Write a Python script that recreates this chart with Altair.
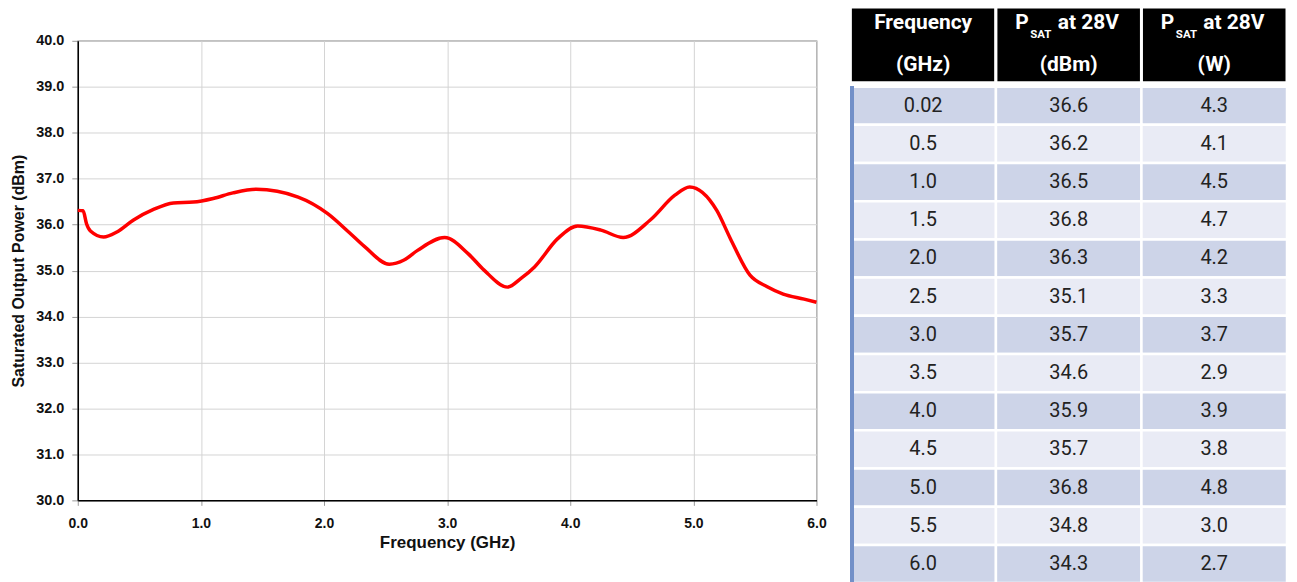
import altair as alt
import pandas as pd

# ---- curve data ----
freq = [0.0, 0.043, 0.071, 0.103, 0.21, 0.318, 0.453, 0.615, 0.777, 0.939, 1.10, 1.26, 1.45,
        1.79, 2.03, 2.2, 2.33, 2.53, 2.65, 2.76, 2.98, 3.17, 3.3, 3.49, 3.6, 3.71, 3.9,
        4.06, 4.25, 4.43, 4.65, 4.85, 4.97, 5.19, 5.3, 5.46, 5.6, 5.73, 5.9, 6.0]
psat = [36.31, 36.30, 36.02, 35.86, 35.73, 35.84, 36.10, 36.33, 36.47, 36.49, 36.57, 36.69, 36.77,
        36.60, 36.24, 35.84, 35.52, 35.14, 35.23, 35.44, 35.72, 35.37, 35.01, 34.64, 34.83, 35.08, 35.70,
        35.97, 35.88, 35.72, 36.10, 36.64, 36.82, 36.31, 35.70, 34.90, 34.65, 34.49, 34.38, 34.31]

# ---- table data ----
tbl_freq = ["0.02", "0.5", "1.0", "1.5", "2.0", "2.5", "3.0", "3.5", "4.0", "4.5", "5.0", "5.5", "6.0"]
tbl_dbm = ["36.6", "36.2", "36.5", "36.8", "36.3", "35.1", "35.7", "34.6", "35.9", "35.7", "36.8", "34.8", "34.3"]
tbl_w = ["4.3", "4.1", "4.5", "4.7", "4.2", "3.3", "3.7", "2.9", "3.9", "3.8", "4.8", "3.0", "2.7"]
header_line2 = ["(GHz)", "(dBm)", "(W)"]

# ---------------- line chart ----------------
df = pd.DataFrame({"f": freq, "p": psat})
ticks_x = [0, 1, 2, 3, 4, 5, 6]
ticks_y = [30, 31, 32, 33, 34, 35, 36, 37, 38, 39, 40]
AF = "Liberation Sans"

line = alt.Chart(df).mark_line(color="#FF0000", strokeWidth=3.5, interpolate="monotone").encode(
    x=alt.X("f:Q", scale=alt.Scale(domain=[0, 6], nice=False),
            axis=alt.Axis(values=ticks_x, format=".1f", title="Frequency (GHz)", labelFlush=False,
                          labelFontSize=14, labelFontWeight="bold", labelColor="#111",
                          labelFont=AF, titleFont=AF,
                          titleFontSize=17, titleFontWeight="bold", titleColor="#111",
                          labelPadding=11, titlePadding=4, tickSize=5, tickColor="#999",
                          domainColor="#000", domainWidth=1.5, gridColor="#d4d4d4")),
    y=alt.Y("p:Q", scale=alt.Scale(domain=[30, 40], nice=False),
            axis=alt.Axis(values=ticks_y, format=".1f", title="Saturated Output Power (dBm)",
                          labelFlush=False,
                          labelFontSize=14.5, labelFontWeight="bold", labelColor="#111",
                          labelFont=AF, titleFont=AF,
                          titleFontSize=16, titleFontWeight="bold", titleColor="#111",
                          labelPadding=8, titlePadding=9, tickSize=6, tickColor="#999",
                          domainColor="#000", domainWidth=1.5, gridColor="#d4d4d4")),
).properties(
    width=741, height=461,
    view=alt.ViewBackground(stroke="#808080", strokeWidth=1.2),
)

spacer = alt.Chart(df).mark_point(opacity=0, size=1).encode(
    x=alt.value(20), y=alt.value(12)
).properties(width=741, height=25)

left = alt.vconcat(spacer, line, spacing=0)

# ---------------- table ----------------
cols = ["c0", "c1", "c2"]
TW = 438
HH = 76
BH = 498

hdr_rect = pd.DataFrame({"col": cols})
xcol = alt.X("col:O", scale=alt.Scale(domain=cols, paddingInner=0, paddingOuter=0), axis=None)

h_rect = alt.Chart(hdr_rect).mark_rect(color="#000000", stroke="#ffffff", strokeWidth=3).encode(x=xcol)

hdr_txt = pd.DataFrame({
    "col": ["c0", "c0", "c1", "c2"],
    "line": ["l1", "l2", "l2", "l2"],
    "text": ["Frequency", header_line2[0], header_line2[1], header_line2[2]],
})
yline = alt.Y("line:O", scale=alt.Scale(type="point", domain=["l1", "l2"], padding=0.4), axis=None)
hfont = dict(font="Roboto", fontSize=21, fontWeight="bold", color="#ffffff", baseline="middle")
h_txt = alt.Chart(hdr_txt).mark_text(align="center", dy=-1, **hfont).encode(x=xcol, y=yline, text="text:N")

psat_cols = pd.DataFrame({"col": ["c1", "c2"], "line": ["l1", "l1"],
                          "p": ["P", "P"], "sub": ["SAT", "SAT"], "rest": ["at 28V", "at 28V"]})
h_p = alt.Chart(psat_cols).mark_text(align="right", dx=-40, dy=-1, **hfont).encode(x=xcol, y=yline, text="p:N")
h_sub = alt.Chart(psat_cols).mark_text(align="left", dx=-38.5, dy=11, font="Roboto", fontSize=11.5,
                                       fontWeight="bold", color="#ffffff", baseline="middle").encode(
    x=xcol, y=yline, text="sub:N")
h_rest = alt.Chart(psat_cols).mark_text(align="left", dx=-11, dy=-1, **hfont).encode(x=xcol, y=yline, text="rest:N")

header = alt.layer(h_rect, h_txt, h_p, h_sub, h_rest).properties(width=TW, height=HH)

rows = []
for i in range(len(tbl_freq)):
    shade = "dark" if i % 2 == 0 else "light"
    for c, v in zip(cols, [tbl_freq[i], tbl_dbm[i], tbl_w[i]]):
        rows.append({"row": i, "col": c, "text": v, "shade": shade})
body_df = pd.DataFrame(rows)
yrow = alt.Y("row:O", scale=alt.Scale(paddingInner=0, paddingOuter=0), axis=None)

b_rect = alt.Chart(body_df).mark_rect(stroke="#ffffff", strokeWidth=2.5).encode(
    x=xcol, y=yrow,
    color=alt.Color("shade:N", scale=alt.Scale(domain=["dark", "light"], range=["#CDD4E8", "#E9EBF5"]),
                    legend=None),
)
b_txt = alt.Chart(body_df).mark_text(font="Roboto", fontSize=20, color="#222222", baseline="middle",
                                     align="center").encode(x=xcol, y=yrow, text="text:N")
b_left = alt.Chart(body_df).mark_rule(color="#7390C8", strokeWidth=3).encode(
    x=alt.value(1.5), y=alt.value(0), y2=alt.value(BH))

body = alt.layer(b_rect, b_txt, b_left).properties(width=TW, height=BH)

table = alt.vconcat(header, body, spacing=0)

chart = alt.hconcat(left, table, spacing=21).properties(
    padding={"left": 2, "top": -4, "right": 0, "bottom": 0}
).configure_view(strokeWidth=0).configure_concat(spacing=0)

chart.save("out.html", embed_options={"renderer": "svg", "actions": False})
